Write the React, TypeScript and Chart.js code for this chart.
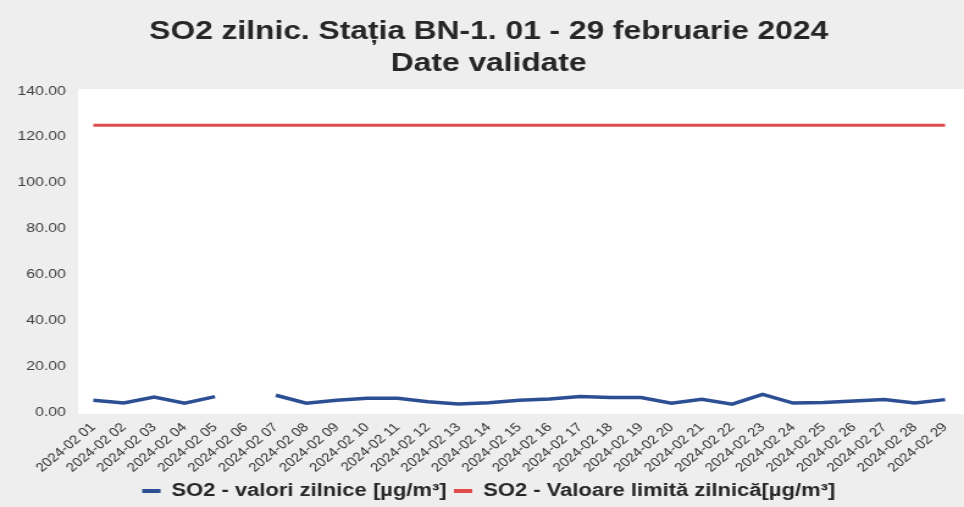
import React, { useEffect, useRef } from "react";
import { Chart, registerables } from "chart.js";

Chart.register(...registerables);

const title = ["SO2 zilnic. Stația BN-1. 01 - 29 februarie 2024", "Date validate"];

const categories = [
  "2024-02 01", "2024-02 02", "2024-02 03", "2024-02 04", "2024-02 05",
  "2024-02 06", "2024-02 07", "2024-02 08", "2024-02 09", "2024-02 10",
  "2024-02 11", "2024-02 12", "2024-02 13", "2024-02 14", "2024-02 15",
  "2024-02 16", "2024-02 17", "2024-02 18", "2024-02 19", "2024-02 20",
  "2024-02 21", "2024-02 22", "2024-02 23", "2024-02 24", "2024-02 25",
  "2024-02 26", "2024-02 27", "2024-02 28", "2024-02 29",
];

const so2DailyLabel = "SO2 - valori zilnice [µg/m³]";
const so2Daily = [
  5.1, 3.9, 6.5, 3.8, 6.7, null, 7.3, 3.8, 5.1, 6.0,
  6.0, 4.5, 3.5, 4.0, 5.1, 5.7, 6.8, 6.3, 6.3, 3.8,
  5.5, 3.4, 7.7, 3.9, 4.1, 4.8, 5.4, 3.9, 5.4,
];

const so2LimitLabel = "SO2 - Valoare limită zilnică[µg/m³]";
const so2Limit = [
  125, 125, 125, 125, 125, 125, 125, 125, 125, 125,
  125, 125, 125, 125, 125, 125, 125, 125, 125, 125,
  125, 125, 125, 125, 125, 125, 125, 125, 125,
];

const yMin = 0;
const yMax = 140;
const yStep = 20;

const FONT = "'Liberation Sans', Arial, sans-serif";
const DISPLAY_W = 964;
const DISPLAY_H = 507;
const STRETCH = 1.22;
const INNER_W = Math.round(DISPLAY_W / STRETCH);

const bgPlugin = {
  id: "bgPlugin",
  beforeDraw(chart: any) {
    const { ctx, width, height, chartArea } = chart;
    ctx.save();
    ctx.fillStyle = "#eeeeee";
    ctx.fillRect(0, 0, width, height);
    ctx.fillStyle = "#ffffff";
    ctx.fillRect(
      chartArea.left,
      chartArea.top - 2,
      chartArea.right - chartArea.left + 3,
      chartArea.bottom - chartArea.top + 4
    );
    ctx.restore();
  },
};

export default function App() {
  const ref = useRef<HTMLCanvasElement | null>(null);

  useEffect(() => {
    if (!ref.current) return;
    const chart = new Chart(ref.current, {
      type: "line",
      data: {
        labels: categories,
        datasets: [
          {
            label: so2DailyLabel,
            data: so2Daily,
            borderColor: "#2c4f94",
            backgroundColor: "#2c4f94",
            borderWidth: 3.5,
            pointRadius: 0,
            tension: 0,
            spanGaps: false,
          },
          {
            label: so2LimitLabel,
            data: so2Limit,
            borderColor: "#e24c4c",
            backgroundColor: "#e24c4c",
            borderWidth: 3,
            pointRadius: 0,
            tension: 0,
          },
        ],
      },
      options: {
        responsive: false,
        animation: false,
        devicePixelRatio: 1,
        layout: { padding: { left: 14, right: 3, top: 0, bottom: -3 } },
        plugins: {
          title: {
            display: true,
            text: title,
            color: "#262626",
            font: { family: FONT, size: 26, weight: "bold", lineHeight: 1.23 },
            padding: { top: 16, bottom: 11 },
          },
          legend: {
            position: "bottom",
            labels: {
              color: "#262626",
              font: { family: FONT, size: 18, weight: "bold" },
              boxWidth: 15,
              boxHeight: 4,
              padding: 6,
              generateLabels: (c: any) =>
                Chart.defaults.plugins.legend.labels
                  .generateLabels(c)
                  .map((l: any) => ({ ...l, lineWidth: 0 })),
            },
          },
          tooltip: { enabled: false },
        },
        scales: {
          x: {
            offset: true,
            grid: { display: false, drawTicks: false },
            border: { display: false },
            afterFit: (scale: any) => {
              scale.paddingLeft = 0;
              scale.paddingRight = 0;
              scale.height = 64;
            },
            ticks: {
              autoSkip: false,
              minRotation: 45,
              maxRotation: 45,
              color: "#333333",
              padding: 8,
              font: { family: FONT, size: 12.5 },
            },
          },
          y: {
            min: yMin,
            max: yMax,
            grid: { display: false, drawTicks: false },
            border: { display: false },
            afterFit: (scale: any) => {
              scale.width = 50;
              scale.paddingTop = 0;
              scale.paddingBottom = 0;
            },
            ticks: {
              stepSize: yStep,
              color: "#404040",
              padding: 10,
              font: { family: FONT, size: 13 },
              callback: (v: any) => Number(v).toFixed(2),
            },
          },
        },
      },
      plugins: [bgPlugin],
    });
    return () => chart.destroy();
  }, []);

  return (
    <div style={{ position: "fixed", left: 0, top: 0, width: DISPLAY_W, height: DISPLAY_H, overflow: "hidden", background: "#eeeeee" }}>
      <canvas
        ref={ref}
        width={INNER_W}
        height={DISPLAY_H}
        style={{ width: DISPLAY_W + "px", height: DISPLAY_H + "px", display: "block" }}
      />
    </div>
  );
}
